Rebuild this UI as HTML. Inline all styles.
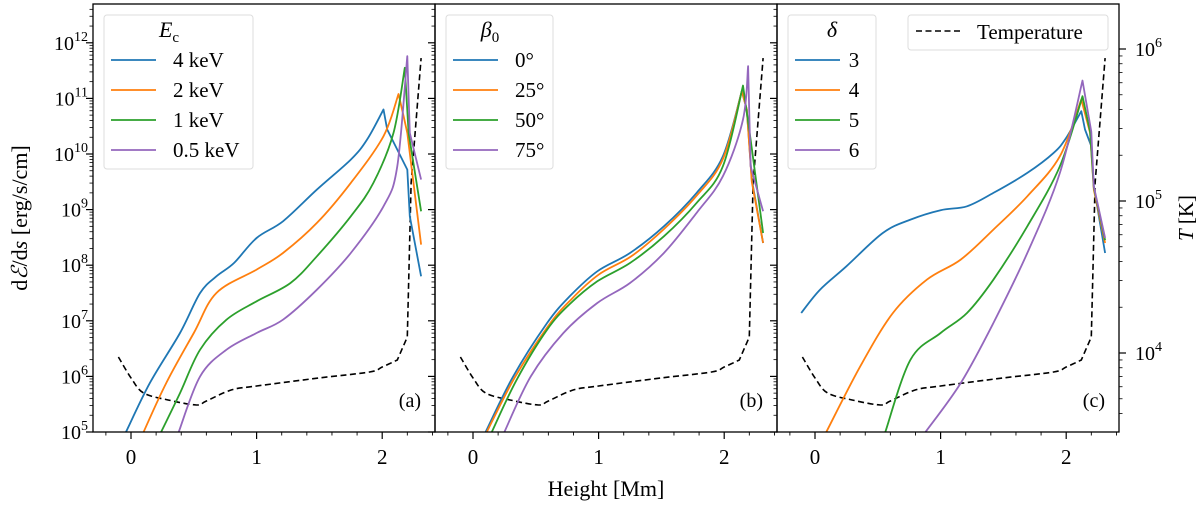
<!DOCTYPE html>
<html><head><meta charset="utf-8">
<style>
html,body{margin:0;padding:0;background:#fff;}
svg{display:block;font-family:"Liberation Serif","DejaVu Serif",serif;}
</style></head>
<body>
<svg id="chart" width="1200" height="505" viewBox="0 0 1200 505" xmlns="http://www.w3.org/2000/svg">
<defs>
<clipPath id="clip0"><rect x="93" y="4" width="342" height="428"/></clipPath>
<clipPath id="clip1"><rect x="435" y="4" width="342" height="428"/></clipPath>
<clipPath id="clip2"><rect x="777" y="4" width="342" height="428"/></clipPath>
</defs>
<g id="marks"></g>
<g id="axes"></g>
<text transform="translate(27,218) rotate(-90)" text-anchor="middle" font-size="22">d<tspan font-style="italic">ℰ</tspan>/d<tspan font-style="italic">s</tspan> [erg/s/cm]</text>
<text transform="translate(1193,218) rotate(-90)" text-anchor="middle" font-size="21"><tspan font-style="italic">T</tspan> [K]</text>
<text x="606" y="496" text-anchor="middle" font-size="22">Height [Mm]</text>
</svg>
<script>
// ---- data ----
const panelLabels = ["(a)", "(b)", "(c)"];
const legendTitles = ["E_c", "β_0", "δ"];
const seriesNamesA = ["4 keV", "2 keV", "1 keV", "0.5 keV"];
const seriesNamesB = ["0°", "25°", "50°", "75°"];
const seriesNamesC = ["3", "4", "5", "6"];
const colors = ["#1f77b4", "#ff7f0e", "#2ca02c", "#9467bd"];
const xTicks = [0, 1, 2];
const yTickExps = [5, 6, 7, 8, 9, 10, 11, 12];
const tTickExps = [4, 5, 6];
// temperature: height (Mm), log10 T
const tempX = [-0.1, 0, 0.1, 0.3, 0.52, 0.6, 0.8, 1.0, 1.5, 1.9, 2.0, 2.12, 2.2, 2.23, 2.31];
const tempLogT = [3.974, 3.836, 3.737, 3.69, 3.658, 3.684, 3.757, 3.783, 3.836, 3.875, 3.908, 3.954, 4.105, 5.118, 5.94];
// panel (a) series: height and log10(dE/ds)
const aX0 = [-0.04, 0.15, 0.39, 0.55, 0.68, 0.82, 1.0, 1.21, 1.48, 1.75, 1.88, 2.01, 2.04, 2.2, 2.22, 2.31];
const aY0 = [5.0, 5.88, 6.78, 7.5, 7.8, 8.04, 8.49, 8.79, 9.36, 9.9, 10.26, 10.8, 10.44, 9.72, 8.88, 7.8];
const aX1 = [0.1, 0.28, 0.5, 0.68, 1.0, 1.21, 1.48, 1.75, 2.01, 2.13, 2.17, 2.2, 2.31];
const aY1 = [5.0, 5.88, 6.78, 7.5, 7.92, 8.22, 8.76, 9.48, 10.32, 11.08, 10.68, 10.38, 8.37];
const aX2 = [0.24, 0.39, 0.55, 0.76, 1.0, 1.27, 1.48, 1.75, 1.93, 2.09, 2.18, 2.21, 2.31];
const aY2 = [5.0, 5.7, 6.48, 7.02, 7.35, 7.68, 8.16, 8.88, 9.48, 10.38, 11.55, 10.38, 8.97];
const aX3 = [0.38, 0.55, 0.76, 1.0, 1.21, 1.48, 1.75, 2.01, 2.12, 2.2, 2.22, 2.31];
const aY3 = [5.0, 6.0, 6.48, 6.78, 7.02, 7.56, 8.22, 9.06, 9.78, 11.76, 10.38, 9.54];
// panel (b)
const bX0 = [0.1, 0.32, 0.59, 0.77, 0.99, 1.25, 1.52, 1.78, 1.99, 2.14, 2.18, 2.22, 2.31];
const bY0 = [5.0, 6.0, 6.96, 7.44, 7.89, 8.22, 8.7, 9.3, 9.96, 11.13, 10.8, 9.54, 8.4];
const bX1 = [0.11, 0.33, 0.6, 0.78, 1.0, 1.26, 1.52, 1.78, 1.99, 2.14, 2.18, 2.22, 2.31];
const bY1 = [5.0, 5.97, 6.91, 7.38, 7.83, 8.16, 8.65, 9.25, 9.91, 11.13, 10.8, 9.5, 8.4];
const bX2 = [0.15, 0.35, 0.59, 0.77, 0.99, 1.25, 1.52, 1.78, 1.99, 2.15, 2.21, 2.31];
const bY2 = [5.0, 5.95, 6.84, 7.3, 7.71, 8.04, 8.52, 9.12, 9.78, 11.23, 10.26, 8.58];
const bX3 = [0.25, 0.46, 0.72, 0.99, 1.25, 1.52, 1.78, 1.99, 2.15, 2.19, 2.21, 2.31];
const bY3 = [5.0, 6.0, 6.78, 7.32, 7.68, 8.22, 8.94, 9.6, 10.62, 11.58, 9.78, 8.97];
// panel (c)
const cX0 = [-0.11, 0.04, 0.25, 0.54, 0.76, 1.0, 1.21, 1.42, 1.69, 1.9, 2.0, 2.12, 2.15, 2.2, 2.22, 2.31];
const cY0 = [7.14, 7.56, 7.98, 8.58, 8.82, 8.99, 9.06, 9.3, 9.66, 10.02, 10.29, 10.77, 10.44, 10.14, 9.42, 8.22];
const cX1 = [0.09, 0.36, 0.62, 0.89, 1.16, 1.42, 1.69, 1.95, 2.12, 2.19, 2.22, 2.31];
const cY1 = [5.0, 6.18, 7.14, 7.74, 8.1, 8.64, 9.24, 9.96, 10.98, 10.38, 9.36, 8.4];
const cX2 = [0.56, 0.76, 1.0, 1.21, 1.42, 1.69, 1.95, 2.13, 2.19, 2.22, 2.31];
const cY2 = [5.0, 6.3, 6.78, 7.14, 7.74, 8.7, 9.78, 11.04, 10.4, 9.4, 8.45];
const cX3 = [0.88, 1.16, 1.42, 1.69, 1.95, 2.13, 2.2, 2.22, 2.31];
const cY3 = [5.0, 5.88, 6.96, 8.22, 9.66, 11.32, 10.4, 9.42, 8.49];

// ---- geometry ----
const NS = "http://www.w3.org/2000/svg";
const panelLeft = [93, 435, 777];
const panelW = 342, plotTop = 4, plotBot = 432;
const zeroPx = [131, 473, 815];
const pxPerMm = 125.6;
function xs(p, v) { return zeroPx[p] + v * pxPerMm; }
function ys(logv) { return 432 - (logv - 5) * 55.6; }
function ysT(logT) { return 353 - (logT - 4) * 152; }

const marks = document.getElementById('marks');
const axes = document.getElementById('axes');
function mk(tag, attrs, parent) {
  const e = document.createElementNS(NS, tag);
  for (const k in attrs) e.setAttribute(k, attrs[k]);
  parent.appendChild(e);
  return e;
}
function f(v) { return v.toFixed(1); }
// Catmull-Rom spline up to index `stop`, straight lines after
function splinePath(pts, stop) {
  let d = "M" + f(pts[0][0]) + "," + f(pts[0][1]);
  for (let i = 0; i < pts.length - 1; i++) {
    const p1 = pts[i], p2 = pts[i + 1];
    if (i + 1 <= stop) {
      const p0 = i > 0 ? pts[i - 1] : p1;
      const p3 = (i + 2 <= stop) ? pts[i + 2] : p2;
      const c1 = [p1[0] + (p2[0] - p0[0]) / 6, p1[1] + (p2[1] - p0[1]) / 6];
      const c2 = [p2[0] - (p3[0] - p1[0]) / 6, p2[1] - (p3[1] - p1[1]) / 6];
      d += " C" + f(c1[0]) + "," + f(c1[1]) + " " + f(c2[0]) + "," + f(c2[1]) + " " + f(p2[0]) + "," + f(p2[1]);
    } else {
      d += " L" + f(p2[0]) + "," + f(p2[1]);
    }
  }
  return d;
}

const seriesX = [[aX0, aX1, aX2, aX3], [bX0, bX1, bX2, bX3], [cX0, cX1, cX2, cX3]];
const seriesY = [[aY0, aY1, aY2, aY3], [bY0, bY1, bY2, bY3], [cY0, cY1, cY2, cY3]];
const seriesNames = [seriesNamesA, seriesNamesB, seriesNamesC];

for (let p = 0; p < 3; p++) {
  const g = mk('g', {'clip-path': 'url(#clip' + p + ')'}, marks);
  
  
  const tp = tempX.map((x, i) => [xs(p, x), ysT(tempLogT[i])]);
  const t = mk('path', {d: splinePath(tp, tp.length - 4), fill: 'none', stroke: '#000', 'stroke-width': 1.6, 'stroke-dasharray': '6,3.5'}, g);
  
  
  for (let s = 0; s < 4; s++) {
    const ysr = seriesY[p][s];
    let pk = 0;
    for (let i = 1; i < ysr.length; i++) if (ysr[i] > ysr[pk]) pk = i;
    const pts = seriesX[p][s].map((x, i) => [xs(p, x), ys(ysr[i])]);
    const l = mk('path', {d: splinePath(pts, pk), fill: 'none', stroke: colors[s], 'stroke-width': 1.8, 'stroke-linejoin': 'round'}, g);
    
    
  }
  const fr = mk('rect', {x: panelLeft[p], y: plotTop, width: panelW, height: plotBot - plotTop, fill: 'none', stroke: '#000', 'stroke-width': 1.3}, axes);
  
  
  const L = panelLeft[p];
  for (let e = 4; e <= 12; e++) {
    for (let m = 1; m <= 9; m++) {
      const yy = ys(e + Math.log10(m));
      if (yy < plotTop || yy > plotBot) continue;
      const len = m === 1 ? 7 : 3.5;
      mk('line', {x1: L, x2: L - len, y1: yy, y2: yy, stroke: '#000', 'stroke-width': m === 1 ? 1.2 : 0.8}, axes);
    }
  }
  for (let k = -1; k <= 12; k++) {
    const v = k * 0.2;
    const xx = xs(p, v);
    if (xx < L - 0.5 || xx > L + panelW + 0.5) continue;
    const major = Math.abs(v - Math.round(v)) < 1e-6;
    mk('line', {x1: xx, x2: xx, y1: plotBot, y2: plotBot + (major ? 7 : 3.5), stroke: '#000', 'stroke-width': major ? 1.2 : 0.9}, axes);
  }
  for (const v of xTicks) {
    const tl = mk('text', {x: xs(p, v), y: 464, 'text-anchor': 'middle', 'font-size': 21}, axes);
    tl.textContent = String(v);
    
    
  }
  const pl = mk('text', {x: L + 328, y: 407, 'text-anchor': 'end', 'font-size': 20}, axes);
  pl.textContent = panelLabels[p];
  
  
  const lw = [149, 107, 88][p];
  const lg = mk('g', {}, axes);
  
  
  mk('rect', {x: L + 11, y: 15, width: lw, height: 154, rx: 3, fill: '#fff', 'fill-opacity': 0.8, stroke: '#ddd', 'stroke-width': 1}, lg);
  const tt = mk('text', {x: L + 11 + [65, 44, 44][p], y: 37, 'text-anchor': 'middle', 'font-size': 22, 'font-style': 'italic'}, lg);
  const parts = legendTitles[p].split('_');
  tt.appendChild(document.createTextNode(parts[0]));
  if (parts[1]) {
    const sub = mk('tspan', {dy: 5, 'font-size': 15, 'font-style': 'normal'}, tt);
    sub.textContent = parts[1];
  }
  for (let s = 0; s < 4; s++) {
    const yy = 60 + s * 30;
    const ent = mk('g', {}, lg);
    
    
    mk('line', {x1: L + 18, x2: L + 63, y1: yy, y2: yy, stroke: colors[s], 'stroke-width': 1.8}, ent);
    const et = mk('text', {x: p === 2 ? L + 77 : L + 80, y: yy + 7, 'font-size': 21, 'text-anchor': p === 2 ? 'middle' : 'start'}, ent);
    et.textContent = seriesNames[p][s];
  }
}
for (const e of yTickExps) {
  const yy = ys(e);
  const t = mk('text', {x: 88, y: yy + 7, 'text-anchor': 'end', 'font-size': 20}, axes);
  
  
  t.appendChild(document.createTextNode('10'));
  const sp = mk('tspan', {dy: -9, 'font-size': 14}, t);
  sp.textContent = String(e);
}
const R = 1119;
for (let e = 3; e <= 6; e++) {
  for (let m = 1; m <= 9; m++) {
    const yy = ysT(e + Math.log10(m));
    if (yy < plotTop || yy > plotBot) continue;
    const len = m === 1 ? 7 : 3.5;
    mk('line', {x1: R, x2: R + len, y1: yy, y2: yy, stroke: '#000', 'stroke-width': m === 1 ? 1.2 : 0.8}, axes);
  }
}
for (const e of tTickExps) {
  const yy = ysT(e);
  const t = mk('text', {x: 1135, y: yy + 7, 'text-anchor': 'start', 'font-size': 20}, axes);
  
  
  t.appendChild(document.createTextNode('10'));
  const sp = mk('tspan', {dy: -9, 'font-size': 14}, t);
  sp.textContent = String(e);
}
const tl = mk('g', {}, axes);


mk('rect', {x: 908, y: 15, width: 200, height: 35, rx: 3, fill: '#fff', stroke: '#ddd', 'stroke-width': 1}, tl);
mk('line', {x1: 916, x2: 960, y1: 31, y2: 31, stroke: '#000', 'stroke-width': 1.6, 'stroke-dasharray': '6,3.5'}, tl);
const tlt = mk('text', {x: 977, y: 39, 'font-size': 21}, tl);
tlt.textContent = 'Temperature';
</script>
</body></html>
